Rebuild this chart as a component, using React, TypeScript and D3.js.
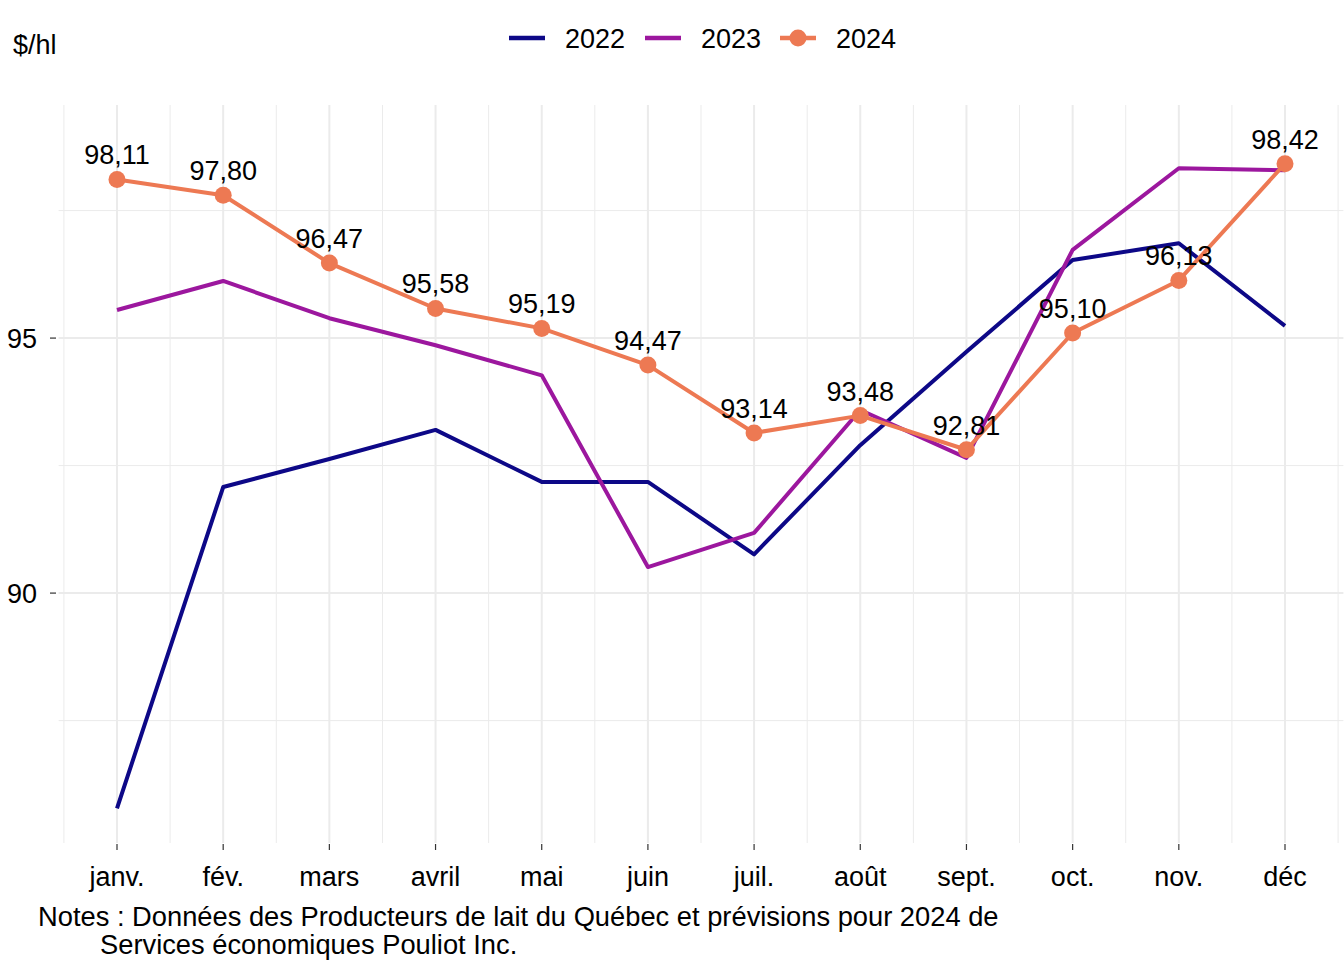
import React from "react";
import * as d3 from "d3";

const months = ["janv.", "fév.", "mars", "avril", "mai", "juin", "juil.", "août", "sept.", "oct.", "nov.", "déc"];
const v2022 = [85.78, 92.08, 92.63, 93.2, 92.18, 92.18, 90.76, 92.9, 94.73, 96.53, 96.86, 95.24];
const v2023 = [95.55, 96.12, 95.39, 94.86, 94.27, 90.51, 91.18, 93.59, 92.65, 96.73, 98.33, 98.29];
const v2024 = [98.11, 97.8, 96.47, 95.58, 95.19, 94.47, 93.14, 93.48, 92.81, 95.1, 96.13, 98.42];
const yTicks = [90, 95];
const yMinor = [87.5, 92.5, 97.5];

const series = [
  { name: "2022", values: v2022, color: "#0D0887", points: false },
  { name: "2023", values: v2023, color: "#9C179E", points: false },
  { name: "2024", values: v2024, color: "#ED7953", points: true },
];

const W = 1344;
const H = 960;
const left = 58.6;
const right = 1343.4;
const top = 105;
const bottom = 843;
const FONT = "'Liberation Sans', Arial, sans-serif";
const FS = 27;

export default function App() {
  const x = d3.scaleLinear().domain([0.45, 12.55]).range([left, right]);
  const y = d3.scaleLinear().domain([85.1, 99.57]).range([bottom, top]);
  const line = d3
    .line<number>()
    .x((_, i) => x(i + 1))
    .y((d) => y(d));

  const xMinor = d3.range(0.5, 13, 1);
  const fmt = (v: number) => v.toFixed(2).replace(".", ",");

  const legendItems = [
    { s: series[0], x0: 509, tx: 565 },
    { s: series[1], x0: 645, tx: 701 },
    { s: series[2], x0: 780, tx: 836 },
  ];

  return (
    <svg width={W} height={H} style={{ position: "absolute", left: 0, top: 0, background: "#fff" }} fontFamily={FONT}>
      <rect width={W} height={H} fill="#fff" />
      {/* grid */}
      {xMinor.map((m) => (
        <line key={"xm" + m} x1={x(m)} x2={x(m)} y1={top} y2={bottom} stroke="#ebebeb" strokeWidth={1} />
      ))}
      {yMinor.map((m) => (
        <line key={"ym" + m} x1={left} x2={right} y1={y(m)} y2={y(m)} stroke="#ebebeb" strokeWidth={1} />
      ))}
      {months.map((_, i) => (
        <line key={"xg" + i} x1={x(i + 1)} x2={x(i + 1)} y1={top} y2={bottom} stroke="#ebebeb" strokeWidth={2} />
      ))}
      {yTicks.map((t) => (
        <line key={"yg" + t} x1={left} x2={right} y1={y(t)} y2={y(t)} stroke="#ebebeb" strokeWidth={2} />
      ))}
      {/* axes ticks and labels */}
      {yTicks.map((t) => (
        <g key={"yt" + t}>
          <line x1={50} x2={56} y1={y(t)} y2={y(t)} stroke="#333" strokeWidth={1.2} />
          <text x={37} y={y(t)} dy="0.36em" textAnchor="end" fontSize={FS} fill="#000">
            {t}
          </text>
        </g>
      ))}
      {months.map((m, i) => (
        <g key={"xt" + i}>
          <line x1={x(i + 1)} x2={x(i + 1)} y1={bottom + 1} y2={bottom + 7} stroke="#333" strokeWidth={1.2} />
          <text x={x(i + 1)} y={886} textAnchor="middle" fontSize={FS} fill="#000">
            {m}
          </text>
        </g>
      ))}
      {/* lines */}
      {series.map((s) => (
        <path key={s.name} d={line(s.values) || ""} fill="none" stroke={s.color} strokeWidth={4} strokeLinejoin="round" />
      ))}
      {series
        .filter((s) => s.points)
        .map((s) => (
          <g key={"p" + s.name}>
            {s.values.map((v, i) => (
              <circle key={i} cx={x(i + 1)} cy={y(v)} r={8.5} fill={s.color} />
            ))}
            {s.values.map((v, i) => (
              <text key={"l" + i} x={x(i + 1)} y={y(v) - 15} textAnchor="middle" fontSize={FS} fill="#000">
                {fmt(v)}
              </text>
            ))}
          </g>
        ))}
      {/* title */}
      <text x={13} y={54} fontSize={FS} fill="#000">
        $/hl
      </text>
      {/* legend */}
      {legendItems.map(({ s, x0, tx }) => (
        <g key={"lg" + s.name}>
          <line x1={x0} x2={x0 + 36} y1={38} y2={38} stroke={s.color} strokeWidth={4.5} />
          {s.points && <circle cx={x0 + 18} cy={38} r={8.5} fill={s.color} />}
          <text x={tx} y={38} dy="0.36em" fontSize={FS} fill="#000">
            {s.name}
          </text>
        </g>
      ))}
      {/* notes */}
      <text x={38} y={926} fontSize={27.3} fill="#000">
        Notes : Données des Producteurs de lait du Québec et prévisions pour 2024 de
      </text>
      <text x={100} y={954} fontSize={27.3} fill="#000">
        Services économiques Pouliot Inc.
      </text>
    </svg>
  );
}
